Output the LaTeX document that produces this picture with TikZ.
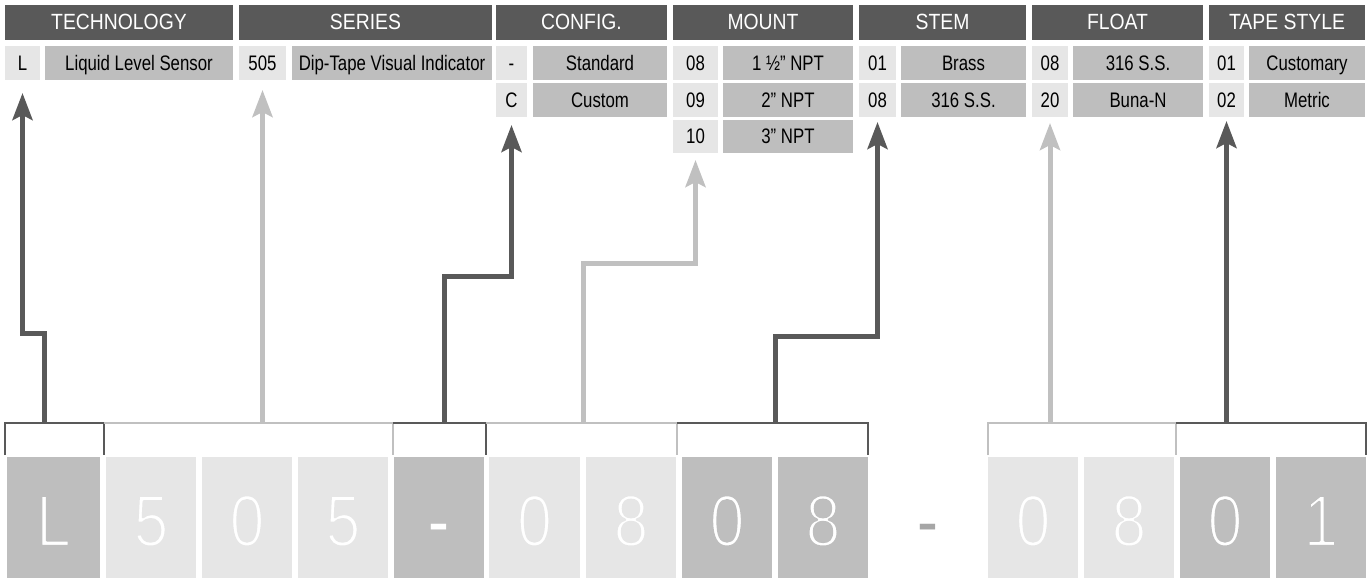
\documentclass[tikz,border=0pt]{standalone}
\usepackage{fontspec}
\setmainfont{Liberation Sans}
\newfontfamily\cellfont[FakeStretch=0.8]{Liberation Sans}
\newfontfamily\headfont[FakeStretch=0.88]{Liberation Sans}
\newfontfamily\digitfont[FakeStretch=0.86]{Liberation Sans}
\usetikzlibrary{arrows.meta,calc}
\definecolor{hdr}{HTML}{595959}
\definecolor{codebg}{HTML}{E6E6E6}
\definecolor{descbg}{HTML}{BEBEBE}
\definecolor{darkln}{HTML}{595959}
\definecolor{lightln}{HTML}{C0C0C0}
\definecolor{sepgray}{HTML}{A6A6A6}
\tikzset{
 cellbase/.style={inner sep=0pt,outer sep=0pt,draw=none,text height=15pt,text depth=0pt},
 hdrbox/.style={cellbase,fill=hdr,text=white,font=\headfont\fontsize{22}{22}\selectfont},
 codebox/.style={cellbase,fill=codebg,text=black,font=\cellfont\fontsize{21}{21}\selectfont},
 descbox/.style={cellbase,fill=descbg,text=black,font=\cellfont\fontsize{21}{21}\selectfont},
 diglight/.style={cellbase,fill=codebg},
 digmid/.style={cellbase,fill=descbg},
 digitxt/.style={inner sep=0pt,text=white,font=\digitfont\fontsize{73}{73}\selectfont,anchor=base},
 darkbr/.style={draw=darkln,line width=2.2pt},
 lightbr/.style={draw=lightln,line width=2.2pt},
 darkarr/.style={draw=darkln,line width=5pt,-{Stealth[length=27pt,width=20pt,inset=5pt]}},
 lightarr/.style={draw=lightln,line width=5pt,-{Stealth[length=27pt,width=20pt,inset=5pt]}},
}
% #1 name, #2 x1, #3 y1, #4 x2, #5 y2, #6 style, #7 text
\newcommand{\cellbox}[7]{%
  \node[#6, minimum width={(#4-#2)*1pt}, minimum height={(#5-#3)*1pt}] (#1) at ({(#2+#4)/2},{(#3+#5)/2}) {#7};}
% thin the glyph strokes by stroking its outline in the box colour
\newcommand{\thinglyph}[2]{\special{pdf:literal direct 2 Tr 2.4 w 1 j #1 #1 #1 RG}#2\special{pdf:literal direct 0 Tr 1 w}}
\begin{document}
\begin{tikzpicture}[x=1pt,y=-1pt]
\useasboundingbox (0,0) rectangle (1370,580);
% headers
\cellbox{hTech}{5}{5}{233}{40}{hdrbox}{TECHNOLOGY}
\cellbox{hSeries}{239}{5}{492}{40}{hdrbox}{SERIES}
\cellbox{hConfig}{496}{5}{667}{40}{hdrbox}{CONFIG.}
\cellbox{hMount}{673}{5}{853}{40}{hdrbox}{MOUNT}
\cellbox{hStem}{859}{5}{1026}{40}{hdrbox}{STEM}
\cellbox{hFloat}{1032}{5}{1203}{40}{hdrbox}{FLOAT}
\cellbox{hTape}{1209}{5}{1365}{40}{hdrbox}{TAPE STYLE}
% technology
\cellbox{cT1}{5}{46}{40}{80}{codebox}{L}
\cellbox{dT1}{45}{46}{233}{80}{descbox}{Liquid Level Sensor}
% series
\cellbox{cS1}{239}{46}{286}{80}{codebox}{505}
\cellbox{dS1}{292}{46}{492}{80}{descbox}{Dip-Tape Visual Indicator}
% config
\cellbox{cC1}{496}{46}{527}{80}{codebox}{-}
\cellbox{dC1}{533}{46}{667}{80}{descbox}{Standard}
\cellbox{cC2}{496}{83}{527}{117}{codebox}{C}
\cellbox{dC2}{533}{83}{667}{117}{descbox}{Custom}
% mount
\cellbox{cM1}{673}{46}{718}{80}{codebox}{08}
\cellbox{dM1}{723}{46}{853}{80}{descbox}{1 ½” NPT}
\cellbox{cM2}{673}{83}{718}{117}{codebox}{09}
\cellbox{dM2}{723}{83}{853}{117}{descbox}{2” NPT}
\cellbox{cM3}{673}{120}{718}{153}{codebox}{10}
\cellbox{dM3}{723}{120}{853}{153}{descbox}{3” NPT}
% stem
\cellbox{cSt1}{859}{46}{896}{80}{codebox}{01}
\cellbox{dSt1}{901}{46}{1026}{80}{descbox}{Brass}
\cellbox{cSt2}{859}{83}{896}{117}{codebox}{08}
\cellbox{dSt2}{901}{83}{1026}{117}{descbox}{316 S.S.}
% float
\cellbox{cF1}{1032}{46}{1068}{80}{codebox}{08}
\cellbox{dF1}{1073}{46}{1203}{80}{descbox}{316 S.S.}
\cellbox{cF2}{1032}{83}{1068}{117}{codebox}{20}
\cellbox{dF2}{1073}{83}{1203}{117}{descbox}{Buna-N}
% tape style
\cellbox{cTp1}{1209}{46}{1244}{80}{codebox}{01}
\cellbox{dTp1}{1249}{46}{1365}{80}{descbox}{Customary}
\cellbox{cTp2}{1209}{83}{1244}{117}{codebox}{02}
\cellbox{dTp2}{1249}{83}{1365}{117}{descbox}{Metric}
% digit boxes
\cellbox{g1}{7}{457}{100}{578}{digmid}{}
\cellbox{g2}{106}{457}{196}{578}{diglight}{}
\cellbox{g3}{202}{457}{292}{578}{diglight}{}
\cellbox{g4}{298}{457}{388}{578}{diglight}{}
\cellbox{g5}{394}{457}{484}{578}{digmid}{}
\cellbox{g6}{489}{457}{580}{578}{diglight}{}
\cellbox{g7}{586}{457}{676}{578}{diglight}{}
\cellbox{g8}{682}{457}{772}{578}{digmid}{}
\cellbox{g9}{778}{457}{868}{578}{digmid}{}
\cellbox{g10}{988}{457}{1078}{578}{diglight}{}
\cellbox{g11}{1084}{457}{1174}{578}{diglight}{}
\cellbox{g12}{1180}{457}{1270}{578}{digmid}{}
\cellbox{g13}{1276}{457}{1366}{578}{digmid}{}
% digits
\foreach \n/\t/\c in {g1/L/0.745,g2/5/0.902,g3/0/0.902,g4/5/0.902,g6/0/0.902,g7/8/0.902,g8/0/0.745,g9/8/0.745,g10/0/0.902,g11/8/0.902,g12/0/0.745,g13/1/0.745}
  \node[digitxt] (t\n) at (\n.center |- 0,546) {\thinglyph{\c}{\t}};
\node[digitxt] (tg5) at (g5.center |- 0,546) {-};
\node[digitxt,text=sepgray] (sepdash) at (928,546) {-};
% brackets
\draw[darkbr] (5,455) -- (5,423) -- (104,423) -- (104,455);
\draw[lightbr] (104,423) -- (393,423) -- (393,455);
\draw[darkbr] (393,423) -- (486,423) -- (486,455);
\draw[lightbr] (486,423) -- (677,423) -- (677,455);
\draw[darkbr] (677,423) -- (868,423) -- (868,455);
\draw[lightbr] (988,455) -- (988,423) -- (1176,423) -- (1176,455);
\draw[darkbr] (1176,423) -- (1366,423) -- (1366,455);
\coordinate (bTech) at (44,423);
\coordinate (bSeries) at (262.5,423);
\coordinate (bConfig) at (444,423);
\coordinate (bMount) at (583,423);
\coordinate (bStem) at (775,423);
\coordinate (bFloat) at (1050,423);
\coordinate (bTape) at (1226.5,423);
% arrows
\draw[darkarr] (bTech) -- ++(0,-90) -| ($(cT1.south)+(0,13)$);
\draw[lightarr] (bSeries) -- ($(cS1.south)+(0,10)$);
\draw[darkarr] (bConfig) -- ++(0,-147) -| ($(cC2.south)+(0,8)$);
\draw[lightarr] (bMount) -- ++(0,-160) -| ($(cM3.south)+(0,7)$);
\draw[darkarr] (bStem) -- ++(0,-87) -| ($(cSt2.south)+(0,5)$);
\draw[lightarr] (bFloat) -- ($(cF2.south)+(0,6)$);
\draw[darkarr] (bTape) -- ($(cTp2.south)+(0,4)$);
\end{tikzpicture}
\end{document}
